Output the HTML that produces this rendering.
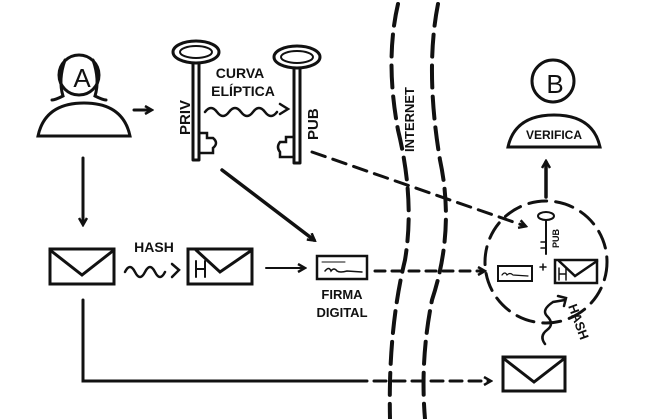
<!DOCTYPE html>
<html><head><meta charset="utf-8"><style>
html,body{margin:0;padding:0;background:#fff;}
svg{display:block;}
text{font-family:"Liberation Sans",sans-serif;font-weight:bold;fill:#111;}
</style></head><body>
<svg width="650" height="419" viewBox="0 0 650 419" xmlns="http://www.w3.org/2000/svg">
<defs>
<marker id="ah" markerWidth="10" markerHeight="10" refX="7" refY="5" orient="auto" markerUnits="userSpaceOnUse">
<path d="M1,1 L8,5 L1,9" fill="none" stroke="#111" stroke-width="2.5"/>
</marker>
</defs>
<g stroke="#111" fill="none" stroke-width="3" stroke-linecap="round">
<!-- Person A -->
<circle cx="79" cy="75" r="20"/>
<path d="M65,60 Q58,80 63,96 Q55,100 52,100 M93,60 Q100,80 95,96 Q103,100 106,100"/>
<path d="M38,136 Q45,103 84,103 Q123,103 130,136 Z"/>
<path d="M134,110 L151,110" marker-end="url(#ah)"/>
<!-- Priv key -->
<ellipse cx="196" cy="52" rx="23" ry="11"/><ellipse cx="196" cy="52" rx="16" ry="6" stroke-width="2"/>
<path d="M193,63 L193,160 M199,63 L199,160 M193,160 L199,160"/>
<path d="M199,133 L207,133 L207,138 L213,138 Q219,143 213,148 L213,153 L199,153" stroke-width="2.5"/>
<!-- Pub key -->
<ellipse cx="297" cy="57" rx="23" ry="11"/><ellipse cx="297" cy="57" rx="16" ry="6" stroke-width="2"/>
<path d="M294,68 L294,163 M300,68 L300,163 M294,163 L300,163"/>
<path d="M294,137 L286,137 L286,142 L280,142 Q276,147 280,152 L280,157 L294,157" stroke-width="2.5"/>
<!-- wavy curva -->
<path d="M205,112 q6,-8 12,0 t12,0 t12,0 t12,0 t12,0 t12,0" stroke-width="2.5"/>
<path d="M280,104 L288,109 L280,114" stroke-width="2.5"/>
<!-- A down -->
<path d="M83,158 L83,224" marker-end="url(#ah)"/>
<!-- Envelope 1 -->
<rect x="50" y="249" width="64" height="35"/><path d="M50,250 L82,275 L114,250"/>
<!-- hash wave -->
<path d="M125,272 q5,-10 10,0 t10,0 t10,0 t10,0" stroke-width="2.5"/>
<path d="M172,264 L179,270 L172,277" stroke-width="2.5"/>
<!-- Envelope 2 -->
<rect x="188" y="249" width="64" height="35"/><path d="M196,250 L220,272 L252,250"/>
<path d="M196,261 L196,277 M205,261 L205,277 M196,269 L205,269" stroke-width="2"/>
<path d="M266,268 L304,268" stroke-width="2" marker-end="url(#ah)"/>
<!-- Firma -->
<rect x="317" y="256" width="50" height="23" stroke-width="2.5"/>
<path d="M322,262 L345,262" stroke-width="1"/>
<path d="M325,271 q4,-5 6,0 q3,-4 6,0 q3,2 10,0 L362,272" stroke-width="1.5"/>
<!-- priv arrow -->
<path d="M222,170 L314,240" stroke-width="3.5" marker-end="url(#ah)"/>
<!-- pub dashed -->
<path d="M312,152 L525,226" stroke-dasharray="14,8" marker-end="url(#ah)"/>
<!-- internet curves -->
<path d="M398,4 Q385,60 398,130 Q415,200 405,260 Q388,330 390,419" stroke-width="4" stroke-dasharray="22,9"/>
<path d="M438,4 Q425,70 440,160 Q455,230 432,300 Q420,360 425,419" stroke-width="4" stroke-dasharray="22,9"/>
<!-- firma dashed -->
<path d="M375,271 L484,271" stroke-dasharray="10,7" marker-end="url(#ah)"/>
<!-- circle -->
<circle cx="546" cy="262" r="61" stroke-dasharray="18,9"/>
<!-- small key -->
<ellipse cx="546" cy="216" rx="8" ry="4" stroke-width="2"/>
<path d="M546,220 L546,254" stroke-width="2"/>
<path d="M546,242 L541,242 M546,248 L541,248" stroke-width="1.5"/>
<!-- small firma -->
<rect x="498" y="266" width="34" height="15" stroke-width="2"/>
<path d="M502,275 q3,-4 5,0 q3,-3 6,0 L528,276" stroke-width="1.2"/>
<path d="M543,264 L543,270 M540,267 L546,267" stroke-width="1.5"/>
<!-- small envelope -->
<rect x="555" y="260" width="42" height="23" stroke-width="2.5"/><path d="M559,261 L575,276 L597,261" stroke-width="2.5"/>
<path d="M559,268 L559,280 M566,268 L566,280 M559,274 L566,274" stroke-width="1.5"/>
<!-- up arrow to B -->
<path d="M546,197 L546,162" stroke-width="3.5" marker-end="url(#ah)"/>
<!-- B -->
<circle cx="553" cy="81" r="21"/>
<path d="M508,147 Q515,115 554,115 Q593,115 600,147 Z"/>
<!-- hash wave up -->
<path d="M545,344 q-6,-8 2,-14 q8,-6 0,-14 q-6,-6 6,-14 L565,300" stroke-width="2.5"/>
<path d="M558,296 L566,298 L564,306" stroke-width="2.5"/>
<!-- bottom line -->
<path d="M83,300 L83,381 L355,381" stroke-width="3"/>
<path d="M355,381 L490,381" stroke-dasharray="12,7" marker-end="url(#ah)"/>
<!-- bottom envelope -->
<rect x="503" y="357" width="62" height="34"/><path d="M503,358 L534,382 L565,358"/>
</g>
<g>
<text x="82" y="87" text-anchor="middle" font-size="26" font-weight="normal" style="font-weight:normal">A</text>
<text x="555" y="93" text-anchor="middle" font-size="26" style="font-weight:normal">B</text>
<text x="240" y="78" text-anchor="middle" font-size="14">CURVA</text>
<text x="243" y="96" text-anchor="middle" font-size="14">ELÍPTICA</text>
<text transform="translate(190,135) rotate(-90)" font-size="15">PRIV</text>
<text transform="translate(318,140) rotate(-90)" font-size="15">PUB</text>
<text transform="translate(414,152) rotate(-90)" font-size="13">INTERNET</text>
<text x="154" y="252" text-anchor="middle" font-size="14">HASH</text>
<text x="342" y="299" text-anchor="middle" font-size="13">FIRMA</text>
<text x="342" y="317" text-anchor="middle" font-size="13">DIGITAL</text>
<text x="554" y="139" text-anchor="middle" font-size="12">VERIFICA</text>
<text transform="translate(559,248) rotate(-90)" font-size="9">PUB</text>
<text transform="translate(568,306) rotate(70)" font-size="13">HASH</text>
</g>
</svg>
</body></html>
